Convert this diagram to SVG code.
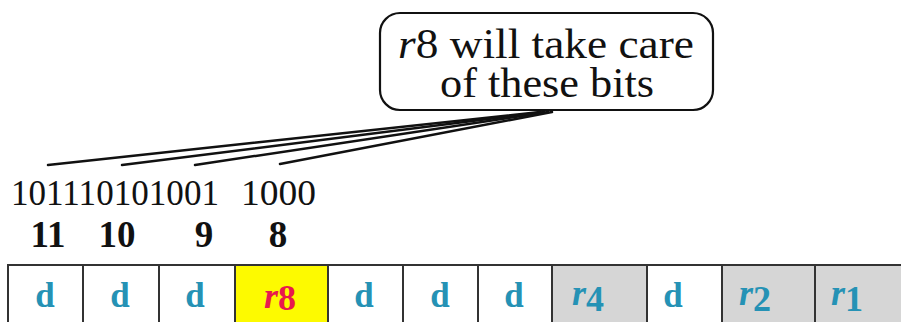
<svg xmlns="http://www.w3.org/2000/svg" width="901" height="322" viewBox="0 0 901 322">
<style>
.bubble{fill:#fff;stroke:#111;stroke-width:2.2;}
.lead{stroke:#111;stroke-width:2.5;fill:none;stroke-linecap:round;}
.cell{stroke:#333;stroke-width:2;}
.w{fill:#fff;}
.g{fill:#d6d6d6;}
.y{fill:#fdfa00;}
.d{font-family:"Liberation Serif","Times New Roman",serif;font-weight:bold;font-size:35px;fill:#2592b5;text-anchor:middle;}
.rr{font-family:"Liberation Serif","Times New Roman",serif;font-weight:bold;font-size:36px;text-anchor:middle;}
.it{font-style:italic;}
.bits{font-family:"Liberation Serif","Times New Roman",serif;font-size:36px;fill:#111;}
.num{font-family:"Liberation Serif","Times New Roman",serif;font-size:37px;font-weight:bold;fill:#111;text-anchor:middle;}
.call{font-family:"Liberation Serif","Times New Roman",serif;font-size:42px;fill:#111;text-anchor:middle;}
</style>
<rect width="901" height="322" fill="#fff"/>
<g id="callout">
<rect class="bubble" x="380" y="13" width="333" height="97" rx="20"/>
<text class="call" x="546" y="58" textLength="296" lengthAdjust="spacingAndGlyphs"><tspan font-style="italic">r</tspan>8 will take care</text>
<text class="call" x="547" y="97" textLength="214" lengthAdjust="spacingAndGlyphs">of these bits</text>
</g>
<g id="connectors">
<path class="lead" d="M540 112 L48 165"/>
<path class="lead" d="M544 112 L122 165"/>
<path class="lead" d="M548 112 L195 165"/>
<path class="lead" d="M552 112 L280 164"/>
</g>
<g id="bits">
<text class="bits" x="11" y="205" textLength="208" lengthAdjust="spacingAndGlyphs">101110101001</text>
<text class="bits" x="241" y="205" textLength="75" lengthAdjust="spacingAndGlyphs">1000</text>
<text class="num" x="48" y="247">11</text>
<text class="num" x="117" y="247">10</text>
<text class="num" x="204" y="247">9</text>
<text class="num" x="278" y="247">8</text>
</g>
<g id="cells">
<g id="c11"><rect class="cell w" x="8" y="265" width="75" height="60"/><text class="d" x="45" y="307">d</text></g>
<g id="c10"><rect class="cell w" x="83" y="265" width="76" height="60"/><text class="d" x="120" y="307">d</text></g>
<g id="c9"><rect class="cell w" x="159" y="265" width="76" height="60"/><text class="d" x="195" y="307">d</text></g>
<g id="c8"><rect class="cell y" x="235" y="265" width="93" height="60"/><text class="rr" x="280" y="308" fill="#e8194d"><tspan class="it">r</tspan><tspan dy="2">8</tspan></text></g>
<g id="c7"><rect class="cell w" x="328" y="265" width="75" height="60"/><text class="d" x="364" y="307">d</text></g>
<g id="c6"><rect class="cell w" x="403" y="265" width="75" height="60"/><text class="d" x="440" y="307">d</text></g>
<g id="c5"><rect class="cell w" x="478" y="265" width="74" height="60"/><text class="d" x="514" y="307">d</text></g>
<g id="c4"><rect class="cell g" x="552" y="265" width="95" height="60"/><text class="rr" x="588" y="305" fill="#2592b5"><tspan class="it">r</tspan><tspan dy="6">4</tspan></text></g>
<g id="c3"><rect class="cell w" x="647" y="265" width="75" height="60"/><text class="d" x="673" y="307">d</text></g>
<g id="c2"><rect class="cell g" x="722" y="265" width="93" height="60"/><text class="rr" x="755" y="305" fill="#2592b5"><tspan class="it">r</tspan><tspan dy="6">2</tspan></text></g>
<g id="c1"><rect class="cell g" x="815" y="265" width="90" height="60"/><text class="rr" x="847" y="305" fill="#2592b5"><tspan class="it">r</tspan><tspan dy="6">1</tspan></text></g>
</g>
</svg>
